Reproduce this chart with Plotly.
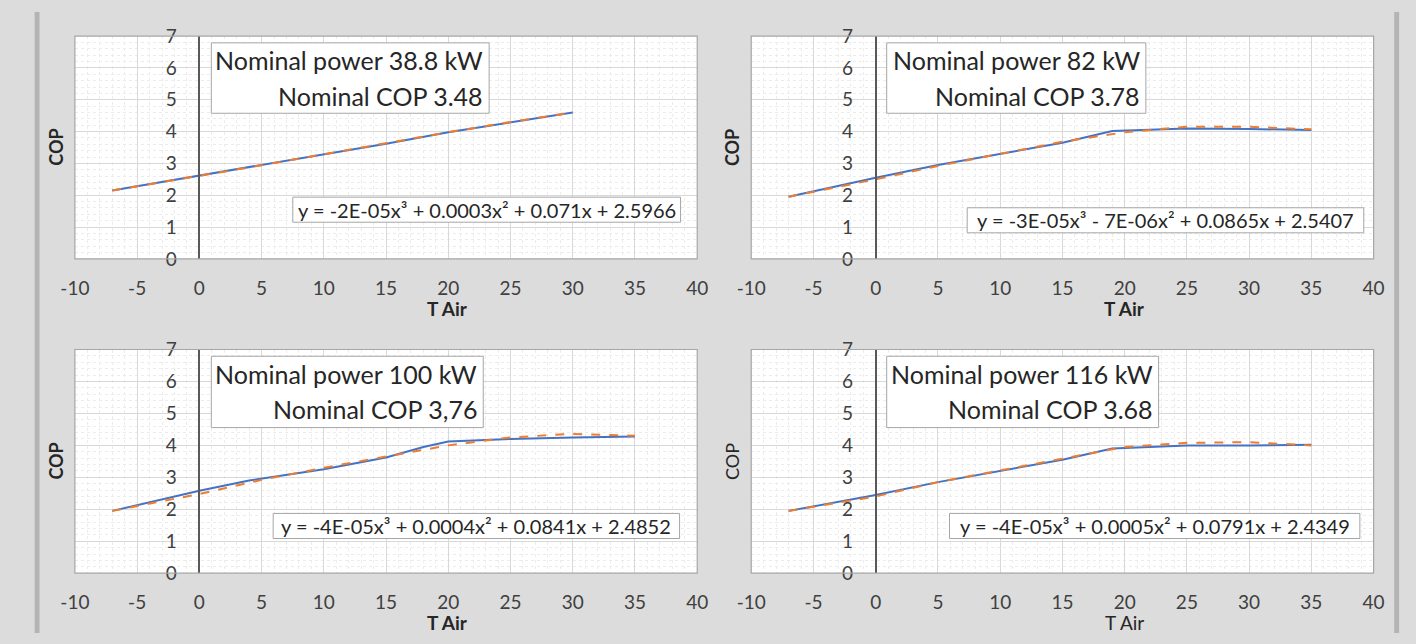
import plotly.graph_objects as go

W, H = 1416, 644

# ---------------- data ----------------
t_38 = [-7, -2, 2, 7, 10, 15, 20, 25, 30]
cop_38 = [2.15, 2.48, 2.74, 3.08, 3.28, 3.62, 3.98, 4.30, 4.60]
fit_38 = [2.15, 2.47, 2.74, 3.08, 3.29, 3.63, 3.98, 4.30, 4.60]

t_82 = [-7, 0, 5, 10, 15, 19, 25, 30, 35]
cop_82 = [1.95, 2.55, 2.95, 3.30, 3.65, 4.02, 4.10, 4.08, 4.05]
t_82f = [-7, 0, 5, 10, 15, 20, 25, 30, 35]
fit_82 = [1.95, 2.50, 2.92, 3.30, 3.68, 3.98, 4.15, 4.15, 4.07]

t_100 = [-7, 0, 4, 10, 15, 18, 20, 25, 30, 35]
cop_100 = [1.95, 2.58, 2.90, 3.25, 3.62, 3.95, 4.12, 4.20, 4.25, 4.28]
t_100f = [-7, 0, 5, 10, 15, 20, 25, 30, 35]
fit_100 = [1.95, 2.48, 2.92, 3.30, 3.65, 4.00, 4.25, 4.36, 4.30]

t_116 = [-7, 0, 5, 10, 15, 19, 25, 30, 35]
cop_116 = [1.95, 2.45, 2.85, 3.20, 3.55, 3.90, 4.00, 4.00, 4.02]
t_116f = [-7, 0, 5, 10, 15, 20, 25, 30, 35]
fit_116 = [1.95, 2.40, 2.85, 3.22, 3.60, 3.95, 4.08, 4.10, 4.00]

x_ticks = [-10, -5, 0, 5, 10, 15, 20, 25, 30, 35, 40]
x_tick_text = ["-10", "-5", "0", "5", "10", "15", "20", "25", "30", "35", "40"]
y_ticks = [0, 1, 2, 3, 4, 5, 6, 7]

nominal_power = ["Nominal power 38.8 kW", "Nominal power 82 kW",
                 "Nominal power 100 kW", "Nominal power 116 kW"]
nominal_cop = ["Nominal COP 3.48", "Nominal COP 3.78",
               "Nominal COP 3,76", "Nominal COP 3.68"]
equations = [
    "y = -2E-05x³ + 0.0003x² + 0.071x + 2.5966",
    "y = -3E-05x³ - 7E-06x² + 0.0865x + 2.5407",
    "y = -4E-05x³ + 0.0004x² + 0.0841x + 2.4852",
    "y = -4E-05x³ + 0.0005x² + 0.0791x + 2.4349",
]

series = [
    (t_38, cop_38, t_38, fit_38),
    (t_82, cop_82, t_82f, fit_82),
    (t_100, cop_100, t_100f, fit_100),
    (t_116, cop_116, t_116f, fit_116),
]

# ---------------- layout geometry (pixels) ----------------
panels = [  # left, right, top, bottom
    (61, 695, 25, 256),
    (750, 1384, 25, 256),
    (61, 695, 350, 582),
    (750, 1384, 350, 582),
]
nom_boxes = [(200, 483, 32, 105), (888, 1152, 32, 105),
             (200, 477, 357, 431), (888, 1165, 357, 431)]
eq_boxes = [(283, 678, 192, 218), (970, 1374, 203, 229),
            (263, 677, 520, 546), (952, 1370, 520, 546)]
bold_titles = [True, True, True, False]

FONT = "Lato"
TXT = "#262626"
TICK = "#404040"


def px(x):
    return x / W


def py(y):
    return 1 - y / H


fig = go.Figure()
layout = {}
shapes = []
annotations = []

for i, (l, r, t, b) in enumerate(panels):
    n = "" if i == 0 else str(i + 1)
    xa, ya = "x" + n, "y" + n
    xd = [px(l), px(r)]
    yd = [py(b), py(t)]
    xs, ys, xf, yf = series[i]
    fig.add_trace(go.Scatter(x=xs, y=ys, mode="lines", xaxis=xa, yaxis=ya,
                             line=dict(color="#4472C4", width=2), showlegend=False))
    fig.add_trace(go.Scatter(x=xf, y=yf, mode="lines", xaxis=xa, yaxis=ya,
                             line=dict(color="#ED7D31", width=2, dash="dash"),
                             showlegend=False))
    yaxis_pos = xd[0] + (0 - (-10)) / 50 * (xd[1] - xd[0])
    layout["xaxis" + n] = dict(
        domain=xd, anchor=ya, range=[-10, 40], tickvals=x_ticks, ticktext=x_tick_text,
        showgrid=True, gridcolor="#d9d9d9", gridwidth=1,
        minor=dict(dtick=1, showgrid=True, gridcolor="#ececec", griddash="dot", gridwidth=1),
        zeroline=False, showline=False, ticks="",
        ticklabelstandoff=16,
        tickfont=dict(family=FONT, size=19, color=TICK), fixedrange=True,
    )
    layout["yaxis" + n] = dict(
        domain=yd, anchor="free", position=yaxis_pos,
        range=[0, 7], tickvals=y_ticks,
        showgrid=True, gridcolor="#d9d9d9", gridwidth=1,
        minor=dict(dtick=0.2, showgrid=True, gridcolor="#ececec", griddash="dot", gridwidth=1),
        zeroline=False, showline=True, linecolor="#595959", linewidth=1.5,
        ticks="", ticklabelstandoff=18,
        tickfont=dict(family=FONT, size=19, color=TICK), fixedrange=True,
    )
    # plot frame
    shapes.append(dict(type="rect", xref="paper", yref="paper",
                       x0=xd[0], x1=xd[1], y0=yd[0], y1=yd[1],
                       line=dict(color="#a6a6a6", width=1.2), layer="above"))
    # nominal box
    bl, br, bt, bb = nom_boxes[i]
    shapes.append(dict(type="rect", xref="paper", yref="paper",
                       x0=px(bl), x1=px(br), y0=py(bb), y1=py(bt),
                       fillcolor="white", line=dict(color="#a6a6a6", width=1),
                       layer="above"))
    annotations.append(dict(xref="paper", yref="paper", x=px(br - 4), y=py(bt + 18),
                            xanchor="right", yanchor="middle", showarrow=False,
                            text=nominal_power[i],
                            font=dict(family=FONT, size=25, color=TXT)))
    annotations.append(dict(xref="paper", yref="paper", x=px(br - 4), y=py(bt + 55),
                            xanchor="right", yanchor="middle", showarrow=False,
                            text=nominal_cop[i],
                            font=dict(family=FONT, size=25, color=TXT)))
    # equation box
    el, er, et, eb = eq_boxes[i]
    shapes.append(dict(type="rect", xref="paper", yref="paper",
                       x0=px(el), x1=px(er), y0=py(eb), y1=py(et),
                       fillcolor="white", line=dict(color="#a6a6a6", width=1),
                       layer="above"))
    annotations.append(dict(xref="paper", yref="paper", x=px((el + er) / 2),
                            y=py((et + eb) / 2), xanchor="center", yanchor="middle",
                            showarrow=False, text=equations[i],
                            font=dict(family=FONT, size=20, color=TXT)))
    # axis titles
    bold = bold_titles[i]
    tair = "<b>T Air</b>" if bold else "T Air"
    cop = "<b>COP</b>" if bold else "COP"
    annotations.append(dict(xref="paper", yref="paper", x=px(l + 380), y=py(b + 51),
                            xanchor="center", yanchor="middle", showarrow=False,
                            text=tair, font=dict(family=FONT, size=19, color=TXT)))
    annotations.append(dict(xref="paper", yref="paper", x=px(l - 19), y=py((t + b) / 2),
                            xanchor="center", yanchor="middle", showarrow=False,
                            textangle=-90, text=cop,
                            font=dict(family=FONT, size=18, color=TXT)))

# darker side strips of the screenshot frame
shapes.insert(0, dict(type="rect", xref="paper", yref="paper", x0=px(20), x1=px(25),
                      y0=0, y1=1, fillcolor="#b4b4b4", line=dict(width=0), layer="below"))
shapes.insert(0, dict(type="rect", xref="paper", yref="paper", x0=px(1405), x1=px(1410),
                      y0=0, y1=1, fillcolor="#b4b4b4", line=dict(width=0), layer="below"))

fig.update_layout(
    width=W, height=H,
    margin=dict(l=0, r=0, t=0, b=0),
    paper_bgcolor="#dcdcdc", plot_bgcolor="white",
    shapes=shapes, annotations=annotations,
    showlegend=False,
    **layout,
)

fig.write_html("out.html", config={"displayModeBar": False},
               post_script="document.body.style.margin='0';document.body.style.overflow='hidden';")
